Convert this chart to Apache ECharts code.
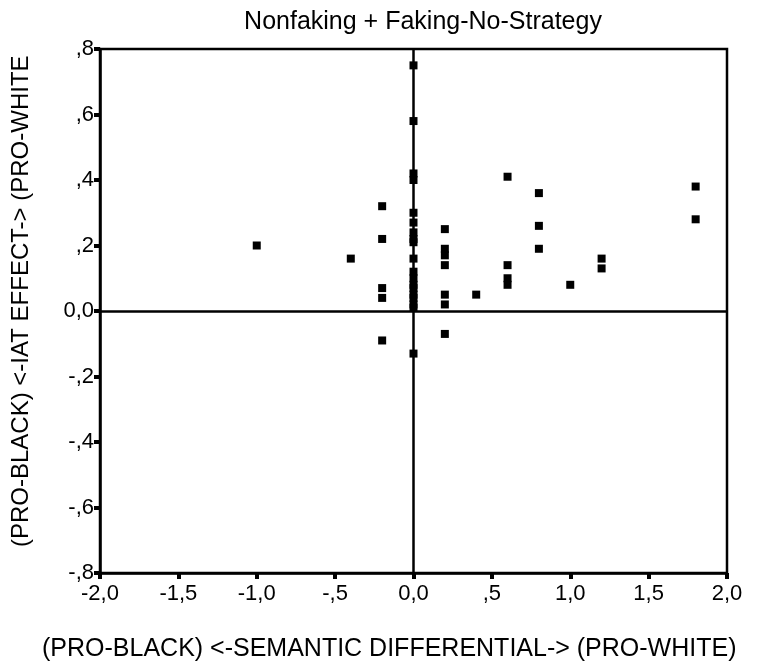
<!DOCTYPE html>
<html>
<head>
<meta charset="utf-8">
<script src="https://cdn.jsdelivr.net/npm/echarts@6/dist/echarts.min.js"></script>
<style>
    html, body { margin: 0; padding: 0; background: #fff; }
    #chart { width: 760px; height: 670px; }
</style>
</head>
<body>
<div id="chart"></div>
<script>
// semantic differential (x) and IAT effect (y), one entry per participant
const semDiff = [
    -1.0,
    -0.4,
    -0.2, -0.2, -0.2, -0.2, -0.2,
    0, 0, 0, 0, 0, 0, 0, 0, 0, 0, 0, 0, 0, 0, 0, 0, 0, 0, 0,
    0.2, 0.2, 0.2, 0.2, 0.2, 0.2, 0.2,
    0.4,
    0.6, 0.6, 0.6, 0.6,
    0.8, 0.8, 0.8,
    1.0,
    1.2, 1.2,
    1.8, 1.8
];
const iatEffect = [
    0.20,
    0.16,
    0.32, 0.22, 0.07, 0.04, -0.09,
    0.75, 0.58, 0.42, 0.40, 0.30, 0.27, 0.24, 0.22, 0.21, 0.16, 0.12, 0.10, 0.08, 0.07, 0.05, 0.04, 0.02, 0.01, -0.13,
    0.25, 0.19, 0.17, 0.14, 0.05, 0.02, -0.07,
    0.05,
    0.41, 0.14, 0.10, 0.08,
    0.36, 0.26, 0.19,
    0.08,
    0.16, 0.13,
    0.38, 0.28
];

const chartTitle = 'Nonfaking + Faking-No-Strategy';
const xTitle = '(PRO-BLACK) <-SEMANTIC DIFFERENTIAL-> (PRO-WHITE)';
const yTitle = '(PRO-BLACK) <-IAT EFFECT-> (PRO-WHITE';

const font = 'Liberation Sans';

// 0.5 -> ",5", -0.2 -> "-,2", 0 -> "0,0"
const fmt = (v) => {
    if (Math.abs(v) < 1e-9) return '0,0';
    return v.toFixed(1).replace('.', ',').replace(/^(-?)0,/, '$1,');
};

const points = semDiff.map((x, i) => [x, iatEffect[i]]);

const myChart = echarts.init(document.getElementById('chart'));

const axisDefaults = {
    type: 'value',
    axisLine: { show: true, onZero: false, lineStyle: { color: '#000', width: 2.5 } },
    axisTick: { show: true, inside: false, length: 6, lineStyle: { color: '#000', width: 4 } },
    splitLine: { show: false },
    axisLabel: { color: '#000', fontFamily: font, fontSize: 22, formatter: fmt }
};

const option = {
    backgroundColor: '#fff',
    animation: false,
    title: {
        text: chartTitle,
        left: 418,
        textAlign: 'center',
        top: 5,
        textStyle: { fontFamily: font, fontSize: 25, fontWeight: 'normal', color: '#000' }
    },
    grid: {
        left: 100,
        top: 49,
        width: 627,
        height: 524,
        show: true,
        borderColor: '#000',
        borderWidth: 2.5
    },
    xAxis: {
        ...axisDefaults,
        min: -2,
        max: 2,
        interval: 0.5,
        axisLabel: { ...axisDefaults.axisLabel, margin: 10 }
    },
    yAxis: {
        ...axisDefaults,
        min: -0.8,
        max: 0.8,
        interval: 0.2,
        axisLabel: { ...axisDefaults.axisLabel, margin: 6 }
    },
    graphic: [
        {
            type: 'text',
            left: 42,
            top: 637,
            style: { text: xTitle, fontFamily: font, fontSize: 25, fill: '#000' }
        },
        {
            type: 'text',
            x: 9,
            y: 547,
            rotation: Math.PI / 2,
            style: { text: yTitle, fontFamily: font, fontSize: 24, fill: '#000' }
        }
    ],
    series: [
        {
            type: 'scatter',
            data: points,
            symbol: 'rect',
            symbolSize: 8,
            itemStyle: { color: '#000', opacity: 1 },
            markLine: {
                silent: true,
                symbol: 'none',
                label: { show: false },
                lineStyle: { color: '#000', width: 2.5, type: 'solid' },
                data: [{ xAxis: 0 }, { yAxis: 0 }]
            }
        }
    ]
};

myChart.setOption(option);
</script>
</body>
</html>
